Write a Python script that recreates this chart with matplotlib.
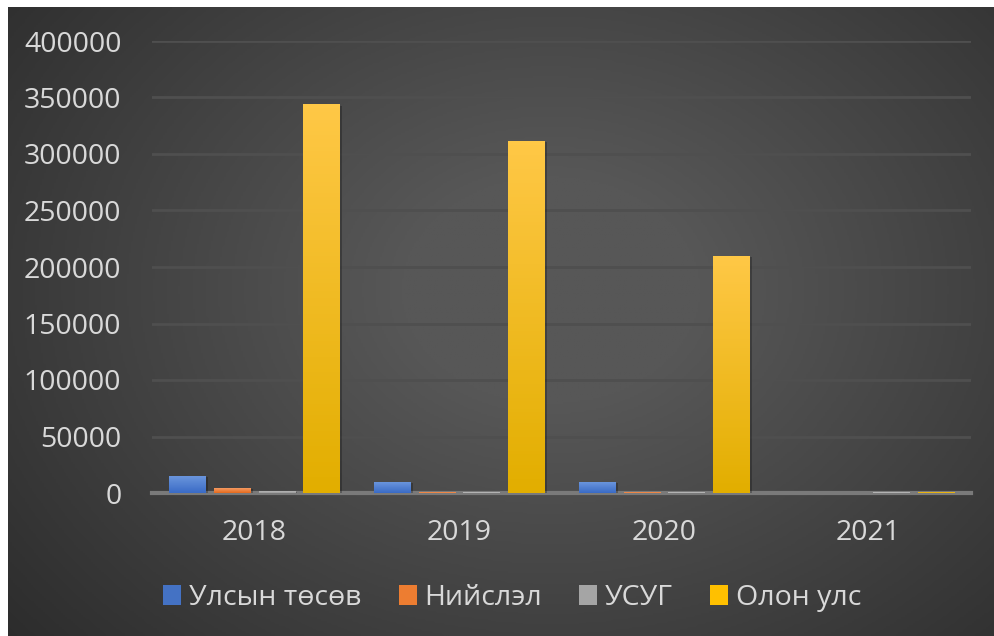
import numpy as np
import matplotlib
matplotlib.use("Agg")
import matplotlib.pyplot as plt
from matplotlib.colors import LinearSegmentedColormap
from matplotlib.patches import Patch
import matplotlib.patheffects as pe

years = ["2018", "2019", "2020", "2021"]
series = ["Улсын төсөв", "Нийслэл", "УСУГ", "Олон улс"]
ulsyn_tosov = [15000, 9700, 9700, 0]
niislel = [4400, 500, 500, 200]
usug = [1800, 500, 500, 500]
olon_uls = [344000, 311500, 209700, 1000]
yticks = [0, 50000, 100000, 150000, 200000, 250000, 300000, 350000, 400000]

# (top, bottom) colours for the gradient fill, plus legend colour
palette = [
    ("#6a95dc", "#3a6bc6", "#4472C4"),
    ("#f49a62", "#e56a1c", "#ED7D31"),
    ("#c4c4c4", "#9a9a9a", "#A5A5A5"),
    ("#ffc846", "#e2ae00", "#FFC000"),
]

plt.rcParams['font.family'] = ['Open Sans', 'DejaVu Sans']
txt = "#d9d9d9"
fs = 20.5

W, H = 995, 636
fig = plt.figure(figsize=(W / 100, H / 100), dpi=100, facecolor="white")

# dark radial background
bg = fig.add_axes([8 / W, 0, 1 - 8 / W, 1 - 7 / H])
yy, xx = np.mgrid[0:1:300j, 0:1:470j]
r = np.sqrt(((xx - 0.55) / 0.75) ** 2 + ((yy - 0.45) / 0.9) ** 2)
shade = np.clip(1 - r, 0, 1)
bg_cmap = LinearSegmentedColormap.from_list("bg", ["#2a2a2a", "#575757"])
bg.imshow(shade, cmap=bg_cmap, aspect="auto", extent=[0, 1, 0, 1], vmin=0, vmax=0.8)
bg.set_axis_off()

ax = fig.add_axes([152 / W, 1 - 493 / H, (971 - 152) / W, (493 - 41) / H])
ax.patch.set_alpha(0)

data = [ulsyn_tosov, niislel, usug, olon_uls]
x = np.arange(len(years))
step = 0.218
width = 0.176
grad = np.linspace(1, 0, 100).reshape(-1, 1)
for i, vals in enumerate(data):
    top, bot, _ = palette[i]
    cmap = LinearSegmentedColormap.from_list("g%d" % i, [bot, top])
    bars = ax.bar(x + (i - 1.5) * step, vals, width, color=top, zorder=3,
                  path_effects=[pe.SimplePatchShadow(offset=(2, -1), alpha=0.25, shadow_rgbFace="black"), pe.Normal()])
    for b in bars:
        h = b.get_height()
        if h <= 0:
            continue
        im = ax.imshow(grad, cmap=cmap, aspect="auto", zorder=4,
                       extent=[b.get_x(), b.get_x() + b.get_width(), 0, h])
        im.set_clip_path(b)

ax.set_xlim(-0.5, 3.5)
ax.set_ylim(0, 400000)
ax.set_yticks(yticks)
ax.set_yticklabels([str(v) for v in yticks])
ax.set_xticks(x)
ax.set_xticklabels(years)
ax.tick_params(axis="both", length=0, colors=txt, labelsize=fs)
ax.tick_params(axis="y", pad=22)
ax.tick_params(axis="x", pad=19)
ax.grid(axis="y", color="#4f4f4f", linewidth=2, zorder=0)
for s in ax.spines.values():
    s.set_visible(False)
ax.axhline(0, color="#7a7a7a", linewidth=3, zorder=2, clip_on=False)

handles = [Patch(facecolor=p[2], label=s) for p, s in zip(palette, series)]
fig.legend(handles=handles, loc="center", bbox_to_anchor=(0.515, 1 - 598 / H), ncol=4,
           frameon=False, fontsize=fs, labelcolor=txt, handlelength=0.63, handleheight=0.66,
           handletextpad=0.28, columnspacing=1.3)

fig.savefig("out.png", dpi=100, facecolor="white")
